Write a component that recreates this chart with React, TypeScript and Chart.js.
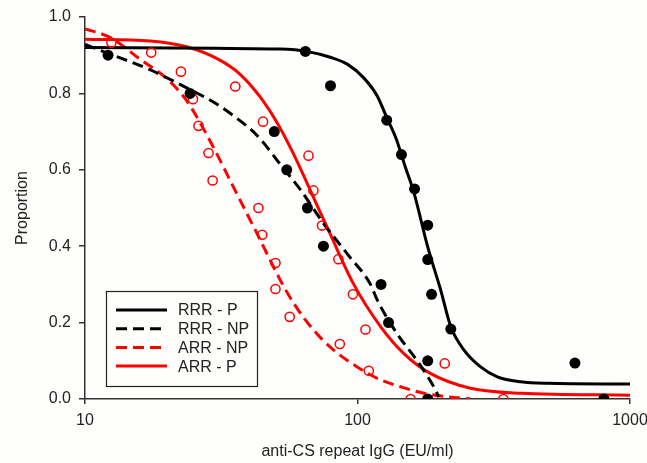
import React, { useEffect, useRef } from "react";
import { Chart, registerables } from "chart.js";

Chart.register(...registerables);

// ---- Data ----
const xTickValues = [10, 100, 1000];
const yTickValues = [0, 0.2, 0.4, 0.6, 0.8, 1.0];

// Observed points
const rrrPointsX = [12.15, 24.3, 49.5, 55, 65.5, 75, 122, 130, 181, 181, 64.4, 79.6, 128, 145, 162, 181, 181, 187, 220, 628, 802];
const rrrPointsY = [0.90, 0.80, 0.70, 0.60, 0.50, 0.40, 0.30, 0.20, 0.10, 0.0, 0.91, 0.82, 0.73, 0.64, 0.55, 0.455, 0.365, 0.274, 0.183, 0.094, 0.0];

const arrPointsX = [12.5, 17.5, 22.5, 24.9, 26.1, 28.4, 29.4, 35.6, 45.0, 43.3, 44.7, 50, 50, 56.4, 66.1, 68.9, 74.1, 85.1, 96.2, 86.1, 107, 110, 209, 156.6, 343];
const arrPointsY = [0.933, 0.907, 0.857, 0.785, 0.715, 0.644, 0.572, 0.818, 0.726, 0.50, 0.43, 0.356, 0.288, 0.215, 0.637, 0.546, 0.454, 0.366, 0.274, 0.144, 0.182, 0.074, 0.093, 0.0, 0.0];

// Fitted curves (traced)
const rrrPCurveX = [10, 30, 52, 65, 80, 92, 105, 118, 128, 138, 150, 161, 181, 202, 220, 246, 283, 326, 397, 498, 1000];
const rrrPCurveY = [0.92, 0.918, 0.916, 0.91, 0.894, 0.876, 0.842, 0.794, 0.737, 0.685, 0.606, 0.541, 0.398, 0.285, 0.189, 0.128, 0.084, 0.058, 0.045, 0.041, 0.039];

const rrrNPCurveX = [10, 12.15, 17.3, 24.3, 30, 35, 42.8, 52, 61.7, 75, 91.7, 111.6, 118, 140, 165.6, 193.5, 198.6];
const rrrNPCurveY = [0.928, 0.905, 0.862, 0.81, 0.775, 0.742, 0.69, 0.615, 0.548, 0.46, 0.38, 0.30, 0.26, 0.17, 0.10, 0.023, 0.005];

const arrNPCurveX = [10, 12.4, 15.9, 20, 23.6, 29.2, 35.1, 42.8, 52.1, 58.4, 69.1, 81.8, 99.7, 121.7, 144, 175, 214, 260];
const arrNPCurveY = [0.969, 0.946, 0.89, 0.838, 0.781, 0.667, 0.554, 0.433, 0.311, 0.25, 0.18, 0.128, 0.084, 0.05, 0.032, 0.015, 0.006, 0.0];

const arrPCurveX = [10, 17.3, 23.6, 30.9, 37.1, 44, 51, 58.3, 65.3, 79.6, 96.9, 121.7, 148, 185, 260, 397, 1000];
const arrPCurveY = [0.942, 0.937, 0.922, 0.889, 0.85, 0.79, 0.72, 0.641, 0.565, 0.43, 0.30, 0.189, 0.119, 0.067, 0.028, 0.015, 0.010];

const legendLabels = ["RRR - P", "RRR - NP", "ARR - NP", "ARR - P"];

const BLACK = "#000000";
const RED = "#ff0000";
const AXIS = "#333333";
const FONT = "Arial, 'Liberation Sans', sans-serif";

const zip = (xs: number[], ys: number[]) => xs.map((x, i) => ({ x, y: ys[i] }));

const legendPlugin = {
  id: "insideLegend",
  afterDraw(chart: any) {
    const { ctx, chartArea } = chart;
    const left = chartArea.left + 21;
    const top = chartArea.bottom - 108;
    const w = 151;
    const h = 95;
    ctx.save();
    ctx.fillStyle = "#fefefc";
    ctx.fillRect(left, top, w, h);
    ctx.strokeStyle = "#222";
    ctx.lineWidth = 1.2;
    ctx.strokeRect(left + 0.5, top + 0.5, w, h);
    const entries = [
      { color: BLACK, dash: [] as number[] },
      { color: BLACK, dash: [11, 6] },
      { color: RED, dash: [11, 6] },
      { color: RED, dash: [] as number[] },
    ];
    ctx.font = `16px ${FONT}`;
    ctx.textBaseline = "middle";
    entries.forEach((e, i) => {
      const y = top + 19 + i * 18.7;
      ctx.beginPath();
      ctx.setLineDash(e.dash);
      ctx.strokeStyle = e.color;
      ctx.lineWidth = 3;
      ctx.moveTo(left + 10, y);
      ctx.lineTo(left + 61, y);
      ctx.stroke();
      ctx.setLineDash([]);
      ctx.fillStyle = "#222";
      ctx.fillText(legendLabels[i], left + 72, y + 1);
    });
    ctx.restore();
  },
};

const bgPlugin = {
  id: "bg",
  beforeDraw(chart: any) {
    const { ctx, width, height } = chart;
    ctx.save();
    ctx.fillStyle = "#fefefc";
    ctx.fillRect(0, 0, width, height);
    ctx.restore();
  },
};

export default function App() {
  const ref = useRef<HTMLCanvasElement | null>(null);

  useEffect(() => {
    document.body.style.margin = "0";
    const canvas = ref.current;
    if (!canvas) return;
    const curve = (xs: number[], ys: number[], color: string, dash: number[]) => ({
      type: "line" as const,
      data: zip(xs, ys),
      borderColor: color,
      borderWidth: 3,
      borderDash: dash,
      pointRadius: 0,
      fill: false,
      showLine: true,
      cubicInterpolationMode: "monotone" as const,
    });
    const chart = new Chart(canvas, {
      type: "scatter",
      data: {
        datasets: [
          {
            data: zip(rrrPointsX, rrrPointsY),
            pointRadius: 5.5,
            pointBackgroundColor: BLACK,
            pointBorderColor: BLACK,
            pointBorderWidth: 0,
            showLine: false,
          } as any,
          {
            data: zip(arrPointsX, arrPointsY),
            pointRadius: 4.6,
            pointBackgroundColor: "rgba(0,0,0,0)",
            pointBorderColor: RED,
            pointBorderWidth: 1.5,
            showLine: false,
          } as any,
          curve(rrrPCurveX, rrrPCurveY, BLACK, []),
          curve(rrrNPCurveX, rrrNPCurveY, BLACK, [11, 6]),
          curve(arrNPCurveX, arrNPCurveY, RED, [11, 6]),
          curve(arrPCurveX, arrPCurveY, RED, []),
        ],
      },
      options: {
        animation: false,
        responsive: false,
        devicePixelRatio: 1,
        layout: { padding: { left: 0, right: 17, top: 17, bottom: 0 } },
        plugins: {
          legend: { display: false },
          tooltip: { enabled: false },
        },
        scales: {
          x: {
            type: "logarithmic",
            min: 10,
            max: 1000,
            afterBuildTicks: (axis: any) => {
              axis.ticks = xTickValues.map((v) => ({ value: v }));
            },
            afterFit: (axis: any) => {
              axis.height = 64;
              axis.paddingLeft = 0;
              axis.paddingRight = 0;
            },
            ticks: {
              callback: (v: any) => String(v),
              color: "#222",
              font: { family: FONT, size: 16 },
              padding: 7,
              maxRotation: 0,
              autoSkip: false,
            },
            grid: {
              drawOnChartArea: false,
              drawTicks: true,
              tickLength: 5,
              color: AXIS,
              lineWidth: 1.5,
            },
            border: { display: true, color: AXIS, width: 1.5 },
            title: {
              display: true,
              text: "anti-CS repeat IgG (EU/ml)",
              color: "#222",
              font: { family: FONT, size: 16 },
              padding: { top: 0, bottom: 1.5 },
            },
          },
          y: {
            min: 0,
            max: 1,
            afterBuildTicks: (axis: any) => {
              axis.ticks = yTickValues.map((v) => ({ value: v }));
            },
            afterFit: (axis: any) => {
              axis.width = 85;
              axis.paddingTop = 0;
              axis.paddingBottom = 0;
            },
            ticks: {
              callback: (v: any) => Number(v).toFixed(1),
              color: "#222",
              font: { family: FONT, size: 16 },
              padding: 8,
            },
            grid: {
              drawOnChartArea: false,
              drawTicks: true,
              tickLength: 6,
              color: AXIS,
              lineWidth: 1.5,
            },
            border: { display: true, color: AXIS, width: 1.5 },
            title: {
              display: true,
              text: "Proportion",
              color: "#222",
              font: { family: FONT, size: 16 },
              padding: { top: 13, bottom: 0 },
            },
          },
        },
      },
      plugins: [bgPlugin, legendPlugin],
    } as any);
    return () => chart.destroy();
  }, []);

  return <canvas ref={ref} width={647} height={463} style={{ display: "block" }} />;
}
